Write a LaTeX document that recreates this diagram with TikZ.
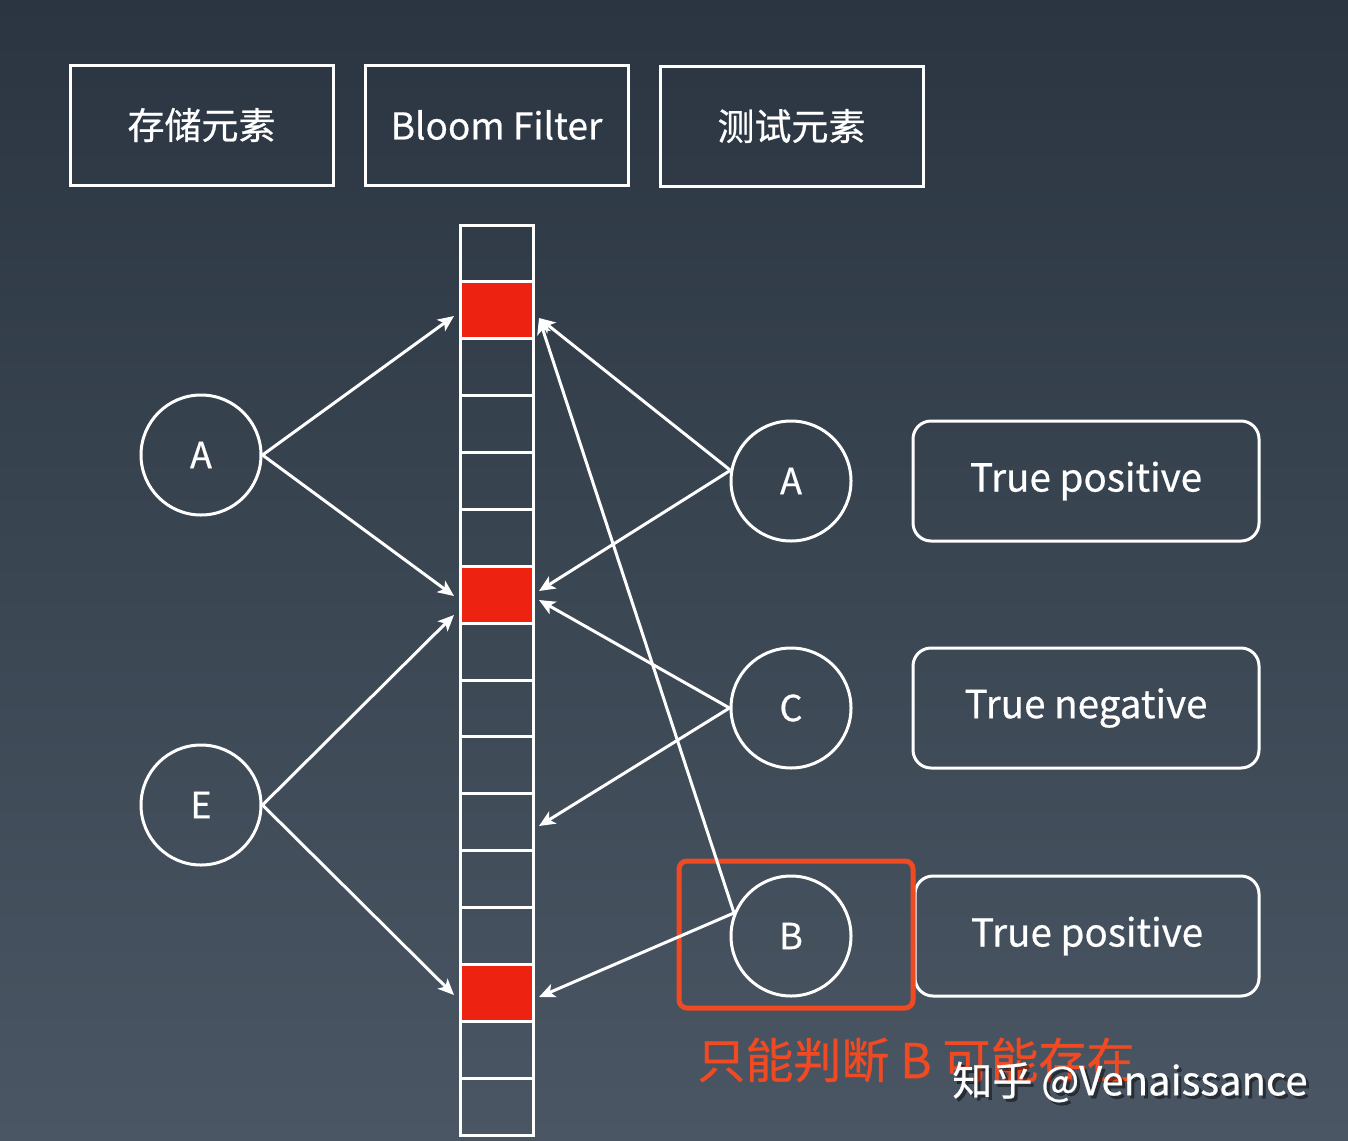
\documentclass[tikz,border=0pt]{standalone}
\usepackage{fontspec}
\setmainfont[FakeBold=0.6,AutoFakeBold=0.6]{Noto Sans CJK SC}
\newfontfamily\heavy[FakeBold=0.6]{Noto Sans CJK SC}
\usetikzlibrary{arrows.meta}
\definecolor{bgtop}{HTML}{2B3542}
\definecolor{bgbot}{HTML}{4A5663}
\definecolor{cellred}{HTML}{EE2211}
\definecolor{hlred}{HTML}{F04A23}
\begin{document}
\begin{tikzpicture}[x=0.5pt,y=-0.5pt,
  topbox/.style={draw=white,line width=1.5pt,minimum width=131.5pt,minimum height=60pt,inner sep=0pt,text=white,font=\heavy\fontsize{18.5pt}{22pt}\selectfont},
  cellbox/.style={draw=white,line width=1.5pt,minimum width=36.5pt,minimum height=28.44pt,inner sep=0pt},
  redcell/.style={cellbox,fill=cellred},
  elem/.style={circle,draw=white,line width=1.5pt,minimum size=60pt,inner sep=0pt,text=white,font=\heavy\fontsize{18pt}{22pt}\selectfont},
  resbox/.style={draw=white,line width=1.5pt,rounded corners=9pt,minimum width=173pt,minimum height=60pt,inner sep=0pt,text=white,font=\heavy\fontsize{19.3pt}{22pt}\selectfont},
  arr/.style={draw=white,line width=1.5pt,-{Stealth[length=8pt,width=7pt,inset=2pt]}}
]
\shade[top color=bgtop,bottom color=bgbot] (0,0) rectangle (1348,1140);
\useasboundingbox (0,0) rectangle (1348,1140);

% top headers
\node[topbox] (h1) at (201.5,125) {存储元素};
\node[topbox] (h2) at (496.5,125) {Bloom Filter};
\node[topbox] (h3) at (791.5,126) {测试元素};

% bloom filter cells
\foreach \i in {1,...,16}{
  \node[cellbox] (c\i) at (496.5,{225+56.875*(\i-0.5)}) {};
}
\node[redcell] at (c2) {};
\node[redcell] at (c7) {};
\node[redcell] at (c14) {};

% elements
\node[elem] (LA) at (201,455) {A};
\node[elem] (LE) at (201,805) {E};
\node[elem] (RA) at (791,481) {A};
\node[elem] (RC) at (791,708) {C};
\node[elem] (RB) at (791,936) {B};

% result boxes
\node[resbox] (p1) at (1086,481) {True positive};
\node[resbox] (p2) at (1086,708) {True negative};
\node[resbox,minimum width=172pt] (p3) at (1087,936) {True positive};

% highlight
\node[draw=hlred,line width=2.5pt,rounded corners=4pt,minimum width=117pt,minimum height=73.5pt,inner sep=0pt] (hl) at (796,934.5) {};

% arrow targets
\coordinate (tl1) at (454,316);
\coordinate (tl2) at (454,596);
\coordinate (tl3) at (454,615);
\coordinate (tl4) at (454,995);
\coordinate (tr1) at (539,318);
\coordinate (tr2) at (539,591);
\coordinate (tr3) at (539,600);
\coordinate (tr4) at (539,826);
\coordinate (tr5) at (539,997);

\draw[arr] (LA.east) -- (tl1);
\draw[arr] (LA.east) -- (tl2);
\draw[arr] (LE.east) -- (tl3);
\draw[arr] (LE.east) -- (tl4);
\draw[arr] (RA.170) -- (tr1);
\draw[arr] (RA.170) -- (tr2);
\draw[arr] (RC.west) -- (tr3);
\draw[arr] (RC.west) -- (tr4);
\draw[arr] (RB.158) -- (tr1);
\draw[arr] (RB.158) -- (tr5);

% annotation
\node[anchor=west,inner sep=0pt,text=hlred,font=\fontsize{24pt}{28pt}\selectfont] (note) at (697,1060) {只能判断 B 可能存在};
\node[anchor=west,inner sep=0pt,text=black,opacity=0.45,font=\heavy\fontsize{20pt}{24pt}\selectfont] (wms) at (955,1085) {知乎 @Venaissance};
\node[anchor=west,inner sep=0pt,text=white,font=\heavy\fontsize{20pt}{24pt}\selectfont] (wm) at (952,1082) {知乎 @Venaissance};
\end{tikzpicture}
\end{document}
